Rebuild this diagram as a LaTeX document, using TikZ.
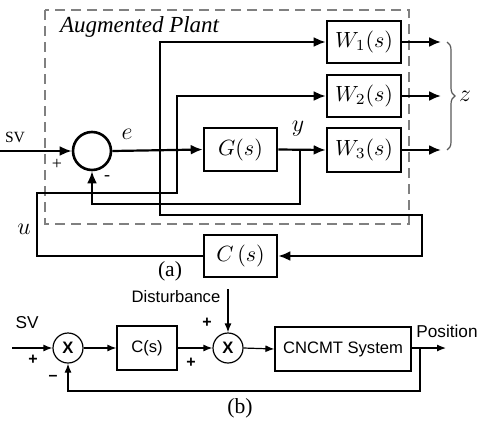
\documentclass[tikz,border=0pt]{standalone}
\usepackage{fix-cm}
\usepackage{fontspec}
\setmainfont{Liberation Serif}
\setsansfont{Liberation Sans}
\usetikzlibrary{arrows.meta,decorations.pathreplacing}

\begin{document}
\begin{tikzpicture}[>={Latex[length=6pt,width=5pt]},x=0.5pt,y=-0.5pt,
  blk/.style={draw,line width=1.3pt,minimum width=37pt,minimum height=21pt,inner sep=0pt,font=\fontsize{11}{13}\selectfont},
  sumnode/.style={draw,circle,line width=1.3pt,minimum size=19pt,inner sep=0pt},
  sig/.style={line width=1.1pt},
  bblk/.style={draw,line width=0.6pt,minimum height=22pt,inner sep=0pt,font=\sffamily\fontsize{8.3}{10}\selectfont},
  bsum/.style={draw,circle,line width=0.6pt,minimum size=15pt,inner sep=0pt,font=\sffamily\bfseries\fontsize{8.3}{10}\selectfont},
  bsig/.style={line width=0.6pt,>={Latex[length=4.5pt,width=3.5pt]}},
  sgn/.style={font=\sffamily\bfseries\fontsize{8}{10}\selectfont},
  lbl/.style={font=\fontsize{12}{14}\selectfont}]
  \useasboundingbox (0,0) rectangle (480,423);
  % (a) augmented plant
  \draw[gray,line width=0.6pt,dash pattern=on 5pt off 3pt] (45,10) rectangle (409,224);
  \node[anchor=west,font=\itshape\fontsize{11.5}{13}\selectfont] (title) at (53,27) {Augmented Plant};
  \node[sumnode] (sum) at (92,151) {};
  \node[blk,minimum width=36.5pt,minimum height=21.5pt] (G) at (240.5,149.5) {$G(s)$};
  \node[blk] (W1) at (364,42) {$W_1(s)$};
  \node[blk] (W2) at (364,96) {$W_2(s)$};
  \node[blk,minimum height=22pt] (W3) at (364,150) {$W_3(s)$};
  \node[blk,minimum width=36.5pt] (C) at (240.5,256) {$C\,(s)$};
  \coordinate (in) at (0,151);
  \coordinate (je) at (160,151);
  \coordinate (jy) at (300,151);
  \coordinate (c1) at (422,215);
  \coordinate (u1) at (37,193);
  \coordinate (u2) at (177,193);
  \coordinate (z1) at (441,42);
  \coordinate (z2) at (441,96);
  \coordinate (z3) at (441,150);
  \draw[sig,->] (in) -- (sum.west);
  \draw[sig,->] (sum.east) -- (G.west);
  \draw[sig,->] (je) |- (W1.west);
  \draw[sig,->] (je) |- (c1) |- (C.east);
  \draw[sig,->] (C.west) -| (u1) -- (u2) |- (W2.west);
  \draw[sig,->] (G.east) -- (W3.west);
  \draw[sig,->] (jy) -- ++(0,53) -| (sum.south);
  \draw[sig,->] (W1.east) -- (z1);
  \draw[sig,->] (W2.east) -- (z2);
  \draw[sig,->] (W3.east) -- (z3);
  \draw[gray!70!black,line width=0.6pt,decorate,decoration={brace,amplitude=4pt}] (447,42) -- (447,150);
  \node[lbl] (zl) at (465,96) {$z$};
  \node[font=\fontsize{7.8}{9}\selectfont] (svA) at (15,137) {SV};
  \node[lbl] (el) at (127,134) {$e$};
  \node[lbl] (yl) at (298,129) {$y$};
  \node[lbl] (ul) at (24,229) {$u$};
  \node[font=\fontsize{9}{10}\selectfont] (pA) at (57,164) {+};
  \node[font=\fontsize{9}{10}\selectfont] (mA) at (107,178) {-};
  \node[font=\fontsize{10.8}{12}\selectfont] (capA) at (170,271) {(a)};
  % (b) CNCMT loop
  \node[bsum] (s1) at (68,348) {X};
  \node[bsum] (s2) at (228,348) {X};
  \node[bblk,minimum width=30pt] (Cb) at (147,348) {C(s)};
  \node[bblk,minimum width=68pt] (sys) at (343,349) {CNCMT System};
  \coordinate (inb) at (12,348);
  \coordinate (db) at (228,289);
  \coordinate (jp) at (420,348);
  \coordinate (outb) at (446,348);
  \draw[bsig,->] (inb) -- (s1.west);
  \draw[bsig,->] (s1.east) -- (Cb.west);
  \draw[bsig,->] (Cb.east) -- (s2.west);
  \draw[bsig,->] (s2.east) -- (sys.west);
  \draw[bsig,->] (sys.east |- jp) -- (outb);
  \draw[bsig,->] (db) -- (s2.north);
  \draw[bsig,->] (jp) -- ++(0,43) -| (s1.south);
  \node[font=\sffamily\fontsize{8.3}{10}\selectfont] (dist) at (176,297) {Disturbance};
  \node[font=\sffamily\fontsize{8.6}{10}\selectfont] (svB) at (27,323) {SV};
  \node[font=\sffamily\fontsize{8.6}{10}\selectfont] (posB) at (447,331) {Position};
  \node[sgn] (p1) at (33,360) {+};
  \node[sgn] (m1) at (53,378) {\textendash};
  \node[sgn] (p2) at (191,363) {+};
  \node[sgn] (p3) at (207,323) {+};
  \node[font=\fontsize{10.8}{12}\selectfont] (capB) at (240,408) {(b)};
\end{tikzpicture}
\end{document}
